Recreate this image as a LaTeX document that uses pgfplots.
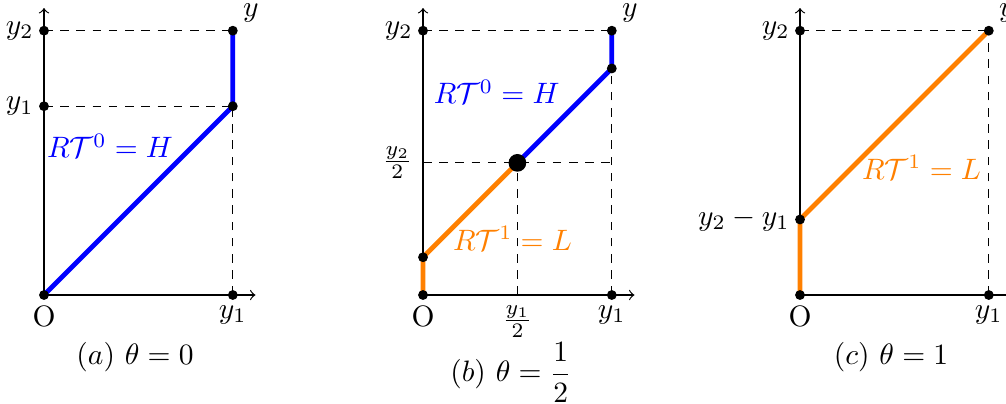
\documentclass[border=0pt]{standalone}
\usepackage{pgfplots}
\pgfplotsset{compat=1.18}
\usepackage{amsmath}
\begin{document}
\begin{tikzpicture}
% one drawing unit = 12.8pt; panel origins placed in a 341pt x 136.6pt frame
\pgfplotsset{
  panel/.style={
    x=12.8pt, y=12.8pt,
    xmin=0, xmax=5.6, ymin=0, ymax=7.6,
    axis lines=left,
    axis line style={-to, line width=0.4pt},
    clip=false,
    major tick length=0pt,
    tick style={draw=none},
    xtick={0,5}, xticklabels={O,$y_1$},
    anchor=south west,
  },
  guide/.style={black, line width=0.4pt, dash pattern=on 2.9pt off 2.6pt},
  seg/.style={line width=1.6pt, line join=round},
  dot/.style={only marks, mark=*, mark size=1.45pt, black, mark options={fill=black}},
}

% (a) theta = 0
\begin{axis}[panel, at={(44*0.339pt,108*0.339pt)},
  ytick={5,7}, yticklabels={$y_1$,$y_2$}]
\addplot[guide] coordinates {(0,7) (5,7)};
\addplot[guide] coordinates {(0,5) (5,5)};
\addplot[guide] coordinates {(5,0) (5,5)};
\addplot[seg, blue] coordinates {(0,0) (5,5) (5,7)};
\addplot[dot] coordinates {(0,0) (5,0) (0,5) (0,7) (5,5) (5,7)};
\node[blue, anchor=base] at (axis cs:1.75,3.63) {$R\mathcal{T}^0 = H$};
\node[anchor=base west, xshift=0pt, yshift=4.8pt] at (axis cs:5,7) {$y$};
\node[anchor=base] at (axis cs:2.41,-1.83) {$(a)\ \theta = 0$};
\end{axis}

% (b) theta = 1/2
\begin{axis}[panel, at={(423*0.339pt,108*0.339pt)},
  xtick={0,2.5,5}, xticklabels={O,$\frac{y_1}{2}$,$y_1$},
  ytick={3.5,7}, yticklabels={$\frac{y_2}{2}$,$y_2$}]
\addplot[guide] coordinates {(0,7) (5,7)};
\addplot[guide] coordinates {(0,3.5) (5,3.5)};
\addplot[guide] coordinates {(5,0) (5,6)};
\addplot[guide] coordinates {(2.5,0) (2.5,3.5)};
\addplot[seg, orange] coordinates {(0,0) (0,1) (2.5,3.5)};
\addplot[seg, blue] coordinates {(2.5,3.5) (5,6) (5,7)};
\addplot[dot] coordinates {(0,0) (5,0) (0,1) (0,7) (5,6) (5,7)};
\addplot[only marks, mark=*, mark size=2.8pt, black, mark options={fill=black}] coordinates {(2.5,3.5)};
\node[blue, anchor=base] at (axis cs:1.95,5.06) {$R\mathcal{T}^0 = H$};
\node[orange, anchor=base] at (axis cs:2.37,1.19) {$R\mathcal{T}^1 = L$};
\node[anchor=base west, xshift=0pt, yshift=4.8pt] at (axis cs:5,7) {$y$};
\node[anchor=base] at (axis cs:2.33,-2.3) {$(b)\ \theta = \dfrac{1}{2}$};
\end{axis}

% (c) theta = 1
\begin{axis}[panel, at={(800*0.339pt,108*0.339pt)},
  ytick={2,7}, yticklabels={$y_2-y_1$,$y_2$}]
\addplot[guide] coordinates {(0,7) (5,7)};
\addplot[guide] coordinates {(5,0) (5,7)};
\addplot[seg, orange] coordinates {(0,0) (0,2) (5,7)};
\addplot[dot] coordinates {(0,0) (5,0) (0,2) (0,7) (5,7)};
\node[orange, anchor=base] at (axis cs:3.22,3.07) {$R\mathcal{T}^1 = L$};
\node[anchor=base west, xshift=0pt, yshift=4.8pt] at (axis cs:5,7) {$y$};
\node[anchor=base] at (axis cs:2.41,-1.83) {$(c)\ \theta = 1$};
\end{axis}

\pgfresetboundingbox
\path[use as bounding box] (0,0) rectangle (1006*0.339pt,403*0.339pt);
\end{tikzpicture}
\end{document}
